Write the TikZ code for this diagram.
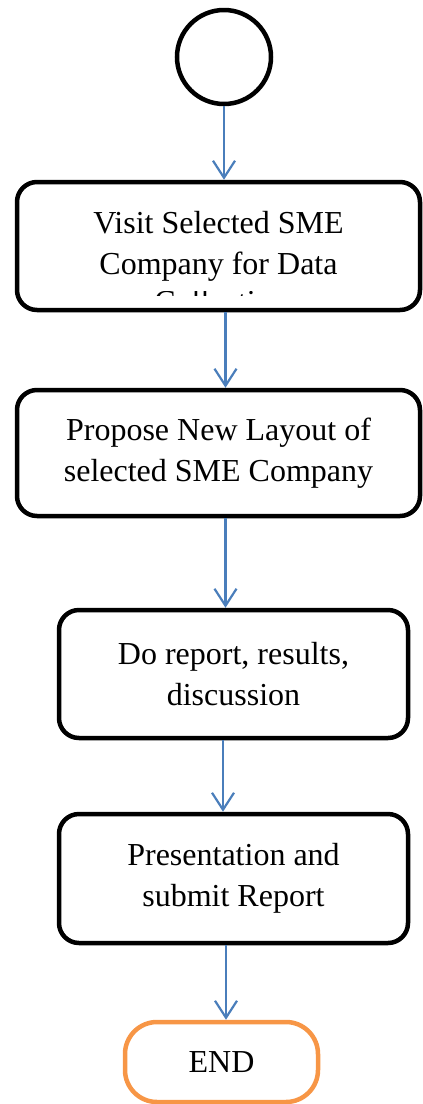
\documentclass[tikz,border=0pt]{standalone}
\usepackage{fontspec}
\setmainfont{Liberation Serif}
\usetikzlibrary{arrows.meta}
\definecolor{flowblue}{RGB}{74,126,187}
\definecolor{endorange}{RGB}{247,150,70}
\tikzset{
  stepbox/.style={draw=black, line width=4.5pt, rounded corners=20pt,
    fill=white, align=center, inner sep=0pt,
    font=\fontsize{32}{41}\selectfont},
  startnode/.style={draw=black, line width=4.5pt, circle, minimum size=94pt, inner sep=0pt},
  endnode/.style={draw=endorange, line width=4.5pt, rounded corners=32pt,
    minimum width=193pt, minimum height=80pt, inner sep=0pt,
    font=\fontsize{32}{41}\selectfont},
  flow/.style={draw=flowblue, line width=2.2pt,
    -{Straight Barb[length=17pt, width=22pt, line width=2.2pt]}}
}
\begin{document}
\begin{tikzpicture}[x=1pt, y=-1pt]
  \useasboundingbox (0,0) rectangle (423,1104);

  % start circle
  \node[startnode] (start) at (224,57) {};

  % process steps
  \node[stepbox, minimum width=403pt, minimum height=128pt] (visit) at (218.5,246)
    {Visit Selected SME\\Company for Data};
  % third line of the first step runs past the box and is cut off
  \begin{scope}
    \clip (20,291.5) rectangle (416,295);
    \node[anchor=base, inner sep=0pt, font=\fontsize{32}{41}\selectfont] (visitcut) at (221,312) {Collection};
  \end{scope}

  \node[stepbox, minimum width=403pt, minimum height=126pt] (propose) at (218.5,453)
    {Propose New Layout of\\selected SME Company};

  \node[stepbox, minimum width=349pt, minimum height=128pt] (report) at (233.5,674)
    {Do report, results,\\discussion};

  \node[stepbox, minimum width=349pt, minimum height=129pt] (present) at (233.5,878.5)
    {Presentation and\\submit Report};

  % terminator
  \node[endnode] (finish) at (221.5,1062) {END};

  % connectors
  \draw[flow] (start.south) -- (start.south |- visit.north);
  \draw[flow] ([xshift=7pt]visit.south) -- ([xshift=7pt]visit.south |- propose.north);
  \draw[flow] ([xshift=7pt]propose.south) -- ([xshift=7pt]propose.south |- report.north);
  \draw[flow] ([xshift=-10.5pt]report.south) -- ([xshift=-10.5pt]report.south |- present.north);
  \draw[flow] ([xshift=-7.5pt]present.south) -- ([xshift=-7.5pt]present.south |- finish.north);
\end{tikzpicture}
\end{document}
